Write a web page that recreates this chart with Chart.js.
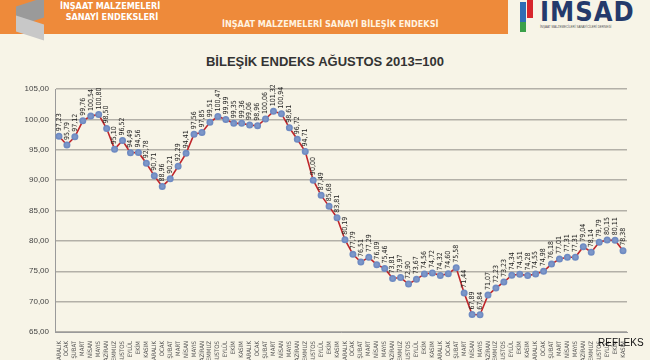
<!DOCTYPE html>
<html>
<head>
<meta charset="utf-8">
<script src="https://cdn.jsdelivr.net/npm/chart.js@4.4.1/dist/chart.umd.min.js"></script>
<style>
  html, body { margin: 0; padding: 0; }
  body { width: 650px; height: 360px; overflow: hidden; position: relative;
         background: #f7f4e7; font-family: "Liberation Sans", Arial, sans-serif; }
  #banner { position: absolute; left: 0; top: 0; width: 508px; height: 34px; background: #ee8a3a; }
  #cube1 { position: absolute; left: 16px; top: 2px; width: 28px; height: 20px; background: #9a9a9a;
           transform: skewY(-18deg); }
  #cube2 { position: absolute; left: 16px; top: 20px; width: 28px; height: 16px; background: #c8c8c8;
           transform: skewY(18deg); }
  #brand { position: absolute; left: 60px; top: 1px; color: #fff; font-weight: bold; font-size: 9px;
           line-height: 11px; font-family: "DejaVu Sans Condensed", "DejaVu Sans", sans-serif; }
  #bannerTitle { position: absolute; left: 222px; top: 19px; color: #fff3e0; font-weight: bold; font-size: 9px;
           font-family: "DejaVu Sans Condensed", "DejaVu Sans", sans-serif; }
  #logoBars span { position: absolute; width: 6px; }
  #imsad { position: absolute; left: 540px; top: -4px; font-size: 27px; font-weight: bold; color: #243a6b;
           letter-spacing: 1px; font-family: "DejaVu Sans Condensed", "DejaVu Sans", sans-serif; }
  #imsadSub { position: absolute; left: 540px; top: 25px; font-size: 3px; color: #555; width: 100px; }
  #title { position: absolute; left: 0; width: 650px; top: 54px; text-align: center; font-weight: bold;
           font-size: 13px; color: #333; }
  #chartBox { position: absolute; left: 0; top: 0; width: 650px; height: 360px; }
  #refleks { position: absolute; left: 598px; top: 337px; font-size: 10px; color: #111; }
</style>
</head>
<body>
<div id="banner"></div>
<div id="cube1"></div>
<div id="cube2"></div>
<div id="brand">İNŞAAT MALZEMELERİ<br>&nbsp;&nbsp;SANAYİ ENDEKSLERİ</div>
<div id="bannerTitle">İNŞAAT MALZEMELERİ SANAYİ BİLEŞİK ENDEKSİ</div>
<div id="logoBars">
  <span style="left:520px;top:2px;height:20px;background:#2f6db5"></span>
  <span style="left:527px;top:0px;height:18px;background:#d7262c"></span>
  <span style="left:520px;top:22px;height:10px;background:#3aa04a"></span>
</div>
<div id="imsad">IMSAD</div>
<div id="imsadSub">İNŞAAT MALZEMECİLERİ SANAYİCİLERİ DERNEĞİ</div>
<div id="title">BİLEŞİK ENDEKS AĞUSTOS 2013=100</div>
<div id="chartBox"><canvas id="chart"></canvas></div>
<div id="refleks">REFLEKS</div>

<script>
const months = ["ARALIK", "OCAK", "ŞUBAT", "MART", "NİSAN", "MAYIS", "HAZİRAN",
  "TEMMUZ", "AĞUSTOS", "EYLÜL", "EKİM", "KASIM"];
const years = ["2012", "2013", "2014", "2015", "2016", "2017"];

const indexValues = [
  97.23, 95.79, 97.12, 99.76, 100.54, 100.80, 98.50, 95.10, 96.52, 94.49, 94.56, 92.78,
  90.71, 88.96, 90.21, 92.29, 94.41, 97.56, 97.85, 99.51, 100.47, 99.99, 99.35, 99.36,
  99.06, 98.96, 100.06, 101.32, 100.94, 98.61, 96.72, 94.71, 90.00, 87.49, 85.68, 83.81,
  80.19, 77.79, 76.51, 77.29, 76.09, 75.46, 73.81, 73.97, 72.90, 73.67, 74.56, 74.72,
  74.32, 74.60, 75.58, 71.44, 67.89, 67.84, 71.07, 72.23, 73.23, 74.34, 74.51, 74.28,
  74.55, 74.98, 76.18, 77.01, 77.31, 77.31, 79.04, 78.14, 79.79, 80.15, 80.11, 78.38
];

const labels = indexValues.map((_, i) => {
  const m = months[i % 12];
  return i % 12 === 0 ? years[i / 12] + " " + m : m;
});

const fmt = v => v.toFixed(2).replace(".", ",");

// value labels written upward above each point
const pointLabels = {
  id: "pointLabels",
  afterDatasetsDraw(chart) {
    const ctx = chart.ctx;
    const meta = chart.getDatasetMeta(0);
    ctx.save();
    ctx.font = "7px 'DejaVu Sans Condensed', 'DejaVu Sans', sans-serif";
    ctx.fillStyle = "#222";
    ctx.textAlign = "left";
    ctx.textBaseline = "middle";
    meta.data.forEach((pt, i) => {
      ctx.save();
      ctx.translate(pt.x, pt.y - 5);
      ctx.rotate(-Math.PI / 2);
      ctx.fillText(fmt(indexValues[i]), 0, 0);
      ctx.restore();
    });
    ctx.restore();
  }
};

new Chart(document.getElementById("chart"), {
  type: "line",
  data: {
    labels,
    datasets: [{
      data: indexValues,
      borderColor: "#c0262b",
      borderWidth: 1.6,
      pointBackgroundColor: "#7d97c9",
      pointBorderColor: "#6f8bc2",
      pointRadius: 2.7,
      tension: 0
    }]
  },
  options: {
    responsive: true,
    maintainAspectRatio: false,
    animation: false,
    layout: { padding: { top: 89, left: 0, right: 23, bottom: 0 } },
    plugins: { legend: { display: false }, tooltip: { enabled: false } },
    scales: {
      x: {
        offset: true,
        grid: { display: false, drawTicks: true },
        border: { color: "#9a9a9a" },
        afterFit: axis => { axis.height = 28; },
        ticks: {
          autoSkip: false,
          maxRotation: 90,
          minRotation: 90,
          padding: 1,
          color: "#555",
          font: { size: 6, family: "'DejaVu Sans Condensed', 'DejaVu Sans', sans-serif" }
        }
      },
      y: {
        min: 65,
        max: 105,
        afterFit: axis => { axis.width = 55; },
        border: { display: true, color: "#9a9a9a" },
        grid: { color: "#b3b0a8", lineWidth: 1.5, drawTicks: false },
        ticks: {
          stepSize: 5,
          padding: 6,
          color: "#444",
          callback: v => fmt(v),
          font: { size: 8, family: "'Liberation Sans', Arial, sans-serif" }
        }
      }
    }
  },
  plugins: [pointLabels]
});
</script>
</body>
</html>
